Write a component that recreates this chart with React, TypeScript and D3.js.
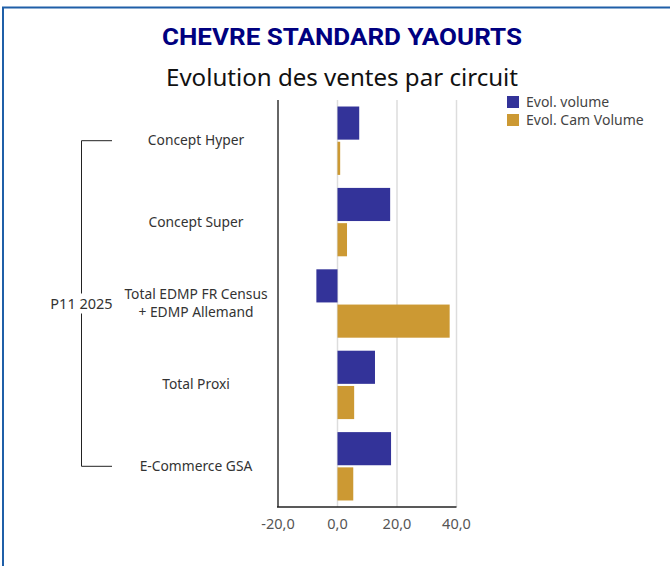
import * as d3 from "d3";
import { useEffect, useRef } from "react";

const categories = [
  ["Concept Hyper"],
  ["Concept Super"],
  ["Total EDMP FR Census", "+ EDMP Allemand"],
  ["Total Proxi"],
  ["E-Commerce GSA"],
];
const groupLabel = "P11 2025";
const seriesNames = ["Evol. volume", "Evol. Cam Volume"];
const evolVolume = [7.3, 17.7, -7.1, 12.6, 18.0];
const evolCamVolume = [0.9, 3.2, 37.7, 5.6, 5.3];
const xTicks = [-20, 0, 20, 40];
const colors = ["#333399", "#cc9933"];

export default function App() {
  const ref = useRef<SVGSVGElement>(null);

  useEffect(() => {
    const svg = d3.select(ref.current);
    svg.selectAll("*").remove();

    const font = "'Noto Sans', sans-serif";
    const left = 278;
    const top = 100;
    const bottom = 507;

    const x = d3.scaleLinear().domain([-20, 40]).range([left, 456.5]);
    const keys = categories.map((_, i) => i);
    const y = d3.scaleBand<number>().domain(keys).range([top, bottom]).paddingInner(0.16).paddingOuter(0.08);
    const ySub = d3.scaleBand<number>().domain([0, 1]).range([0, y.bandwidth()]).paddingInner(0.06);

    // frame
    svg.append("rect")
      .attr("x", 3).attr("y", 7.5).attr("width", 700).attr("height", 600)
      .attr("fill", "none").attr("stroke", "#1f5fa8").attr("stroke-width", 2);

    svg.append("text")
      .attr("x", 342).attr("y", 45)
      .attr("text-anchor", "middle")
      .attr("font-family", "'Roboto', sans-serif")
      .attr("font-weight", "bold")
      .attr("font-size", 23)
      .attr("fill", "#000080")
      .attr("textLength", 360)
      .attr("lengthAdjust", "spacingAndGlyphs")
      .text("CHEVRE STANDARD YAOURTS");

    svg.append("text")
      .attr("x", 342).attr("y", 86)
      .attr("text-anchor", "middle")
      .attr("font-family", font)
      .attr("font-size", 24)
      .attr("fill", "#111")
      .attr("textLength", 352)
      .attr("lengthAdjust", "spacingAndGlyphs")
      .text("Evolution des ventes par circuit");

    // grid
    svg.append("g").selectAll("line")
      .data(xTicks.slice(1))
      .join("line")
      .attr("x1", (d) => x(d)).attr("x2", (d) => x(d))
      .attr("y1", top).attr("y2", bottom)
      .attr("stroke", "#ddd").attr("stroke-width", 1.5);

    // bars
    const rows = keys.map((i) => [evolVolume[i], evolCamVolume[i]]);
    svg.append("g").selectAll("g")
      .data(rows)
      .join("g")
      .attr("transform", (_, i) => `translate(0,${y(i)})`)
      .selectAll("rect")
      .data((d) => d)
      .join("rect")
      .attr("x", (d) => x(Math.min(0, d)))
      .attr("width", (d) => Math.abs(x(d) - x(0)))
      .attr("y", (_, j) => ySub(j)!)
      .attr("height", ySub.bandwidth())
      .attr("fill", (_, j) => colors[j]);

    // axes lines
    svg.append("line")
      .attr("x1", left).attr("x2", left).attr("y1", top).attr("y2", bottom)
      .attr("stroke", "#666").attr("stroke-width", 2);
    svg.append("line")
      .attr("x1", left - 1).attr("x2", x(40)).attr("y1", bottom).attr("y2", bottom)
      .attr("stroke", "#222").attr("stroke-width", 1.5);

    const fmt = (v: number) => d3.format(".1f")(v).replace(".", ",").replace("−", "-");
    svg.append("g").selectAll("text")
      .data(xTicks)
      .join("text")
      .attr("x", (d) => x(d)).attr("y", 529)
      .attr("text-anchor", "middle")
      .attr("font-family", font).attr("font-size", 14.5)
      .attr("fill", "#555")
      .text(fmt);

    // category labels
    const labelX = 196;
    svg.append("g").selectAll("text")
      .data(categories)
      .join("text")
      .attr("text-anchor", "middle")
      .attr("font-family", font).attr("font-size", 13.8)
      .attr("fill", "#333")
      .each(function (lines, i) {
        const cy = y(i)! + y.bandwidth() / 2;
        const t = d3.select(this);
        lines.forEach((line, k) => {
          t.append("tspan")
            .attr("x", labelX)
            .attr("y", cy + 4.5 + (k - (lines.length - 1) / 2) * 18)
            .text(line);
        });
      });

    // group bracket
    const by1 = y(0)! + y.bandwidth() / 2;
    const by2 = y(keys.length - 1)! + y.bandwidth() / 2;
    const bx = 81.5;
    const mid = (by1 + by2) / 2;
    const path = d3.path();
    path.moveTo(112, by1); path.lineTo(bx, by1); path.lineTo(bx, mid - 10);
    path.moveTo(bx, mid + 10); path.lineTo(bx, by2); path.lineTo(112, by2);
    svg.append("path").attr("d", path.toString())
      .attr("fill", "none").attr("stroke", "#222").attr("stroke-width", 1);
    svg.append("text")
      .attr("x", bx).attr("y", mid + 5)
      .attr("text-anchor", "middle")
      .attr("font-family", font).attr("font-size", 14.5)
      .attr("fill", "#333")
      .text(groupLabel);

    // legend
    const lg = svg.append("g").attr("transform", "translate(507,95)");
    seriesNames.forEach((name, i) => {
      lg.append("rect").attr("x", 0).attr("y", i * 18 + 1).attr("width", 12).attr("height", 12).attr("fill", colors[i]);
      lg.append("text").attr("x", 19).attr("y", i * 18 + 11.5)
        .attr("font-family", font).attr("font-size", 14)
        .attr("fill", "#444").text(name);
    });
  }, []);

  return (
    <div style={{ position: "absolute", left: 0, top: 0 }}>
      <svg ref={ref} width={670} height={566} style={{ display: "block" }}></svg>
    </div>
  );
}
